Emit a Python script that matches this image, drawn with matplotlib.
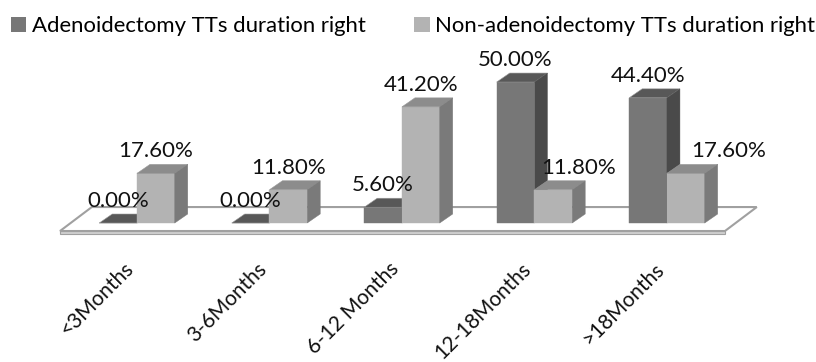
import matplotlib
matplotlib.use("Agg")
import matplotlib.pyplot as plt
from matplotlib.patches import Polygon, Patch

categories = ["<3Months", "3-6Months", "6-12 Months", "12-18Months", ">18Months"]
adeno = [0.0, 0.0, 5.6, 50.0, 44.4]
non_adeno = [17.6, 11.8, 41.2, 11.8, 17.6]
series_names = ["Adenoidectomy TTs duration right", "Non-adenoidectomy TTs duration right"]

# styling / layout (not data)
label_shift = [[0, 0, 0, 0, 0], [0, 0, 0, 0.19, 0.32]]
FONT = ["Lato", "DejaVu Sans"]
plt.rcParams["font.family"] = FONT

W, H = 816, 362
fig = plt.figure(figsize=(W / 100, H / 100), dpi=100)
ax = fig.add_axes([0, 0, 1, 1])
ax.set_xlim(-1.034, 5.125)
ax.set_ylim(-49.3, 79.1)
ax.axis("off")

bw = 0.285      # bar width (x units)
ddx, ddy = 0.098, 3.19   # bar depth offset

# floor
fdx, fdy = 0.24, 8.5
fx0, fx1, fy = -0.581, 4.438, -2.84
floor_front = Polygon([(fx0, fy), (fx1, fy), (fx1, fy - 0.9), (fx0, fy - 0.9)],
                      closed=True, facecolor="#d0d0d0", edgecolor="#a0a0a0", lw=0.8, zorder=1)
floor = Polygon([(fx0, fy), (fx1, fy), (fx1 + fdx, fy + fdy), (fx0 + fdx, fy + fdy)],
                closed=True, facecolor="white", edgecolor="#a0a0a0", lw=1.5, zorder=1)
ax.add_patch(floor_front)
ax.add_patch(floor)

cols = [("#777777", "#585858", "#4a4a4a"), ("#b3b3b3", "#8c8c8c", "#7a7a7a")]


def bar3d(x0, val, c, z):
    front, top, side = c
    x1 = x0 + bw
    ax.add_patch(Polygon([(x0, 0), (x1, 0), (x1, val), (x0, val)], closed=True,
                         facecolor=front, edgecolor=front, lw=0.3, zorder=z))
    ax.add_patch(Polygon([(x0, val), (x1, val), (x1 + ddx, val + ddy), (x0 + ddx, val + ddy)],
                         closed=True, facecolor=top, edgecolor="#9a9a9a", lw=0.4, zorder=z))
    ax.add_patch(Polygon([(x1, 0), (x1 + ddx, ddy), (x1 + ddx, val + ddy), (x1, val)],
                         closed=True, facecolor=side, edgecolor=side, lw=0.3, zorder=z))


z = 2
for i in range(len(categories)):
    for s, vals in enumerate([adeno, non_adeno]):
        x0 = i - bw if s == 0 else i
        bar3d(x0, vals[i], cols[s], z)
        z += 1
        ax.text(x0 + bw / 2 + label_shift[s][i], vals[i] + 7.8, f"{vals[i]:.2f}%",
                ha="center", va="center", fontsize=16, color="#111111", zorder=50)

for i, cat in enumerate(categories):
    ax.text(i - 0.1, -12.6, cat, rotation=45, rotation_mode="anchor",
            ha="right", va="top", fontsize=15, color="#111111")

handles = [Patch(facecolor=cols[0][0], edgecolor="none"), Patch(facecolor=cols[1][0], edgecolor="none")]
fig.legend(handles, series_names, loc="upper left", bbox_to_anchor=(0.013, 0.955), ncol=2,
           frameon=False, fontsize=15.9, handlelength=0.7, handleheight=0.7, handletextpad=0.25,
           columnspacing=2.2, borderaxespad=0, borderpad=0)

fig.savefig("out.png", dpi=100)
